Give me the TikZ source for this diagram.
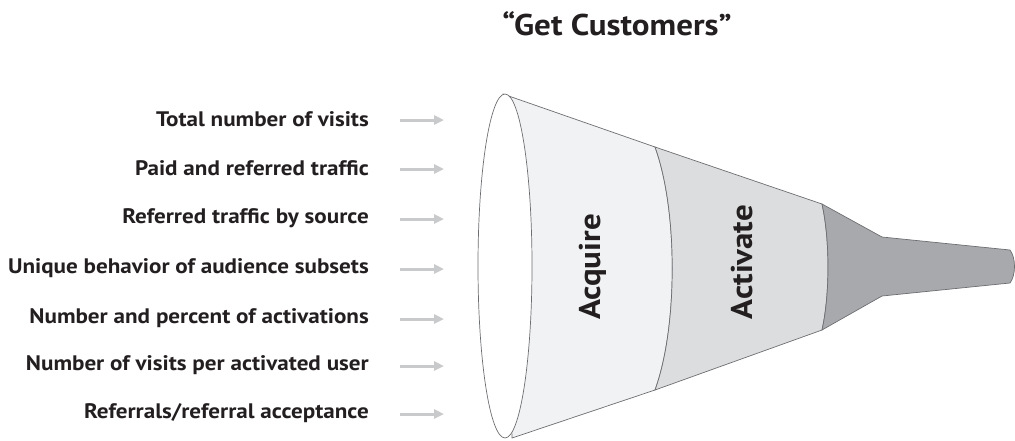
\documentclass[tikz,border=0pt]{standalone}
\usepackage{fontspec}
\setmainfont{PT Sans}
\usetikzlibrary{arrows.meta}
\definecolor{txt}{HTML}{231F20}
\definecolor{edge}{HTML}{6D6E71}
\definecolor{acq}{HTML}{F1F2F3}
\definecolor{act}{HTML}{DCDDDE}
\definecolor{drk}{HTML}{A7A9AC}
\definecolor{arr}{HTML}{C9CACC}
\newfontfamily\wide[FakeStretch=1.1]{PT Sans}
\tikzset{
  lbl/.style={anchor=east, font=\wide\bfseries\fontsize{21}{24}\selectfont, text=txt, inner sep=0pt},
  flow/.style={draw=arr, line width=3pt, -{Triangle[length=10pt,width=9pt]}},
  stage/.style={font=\wide\bfseries\fontsize{30}{34}\selectfont, text=txt, rotate=90, inner sep=0pt},
  rim/.style={draw=edge, line width=0.7pt}
}
\begin{document}
\begin{tikzpicture}[x=1pt,y=-1pt]
\useasboundingbox (0,0) rectangle (1015,440);
\node[font=\wide\bfseries\fontsize{30}{34}\selectfont, text=txt] (title) at (617,24) {“Get Customers”};
% funnel
\path[fill=acq, rim] (503,94) -- (655,147) .. controls (678,210) and (678,327) .. (655,390) -- (512,438) -- cycle;
\path[fill=act, rim] (655,147) -- (822,204) .. controls (830,240) and (830,294) .. (822,330) -- (655,390) .. controls (678,327) and (678,210) .. (655,147) -- cycle;
\path[fill=drk, rim] (822,204) -- (882,237) -- (1010,250) .. controls (1016,258) and (1016,275) .. (1010,283) -- (882,296) -- (822,330) .. controls (830,294) and (830,240) .. (822,204) -- cycle;
\path[fill=white, rim] (505,266) ellipse [x radius=27pt, y radius=172pt];
\node[stage] (acquire) at (593,267) {Acquire};
\node[stage] (activate) at (742,262) {Activate};
% labels
\foreach \i/\y/\t in {1/119/{Total number of visits},2/168/{Paid and referred traffic},3/218/{Referred traffic by source},4/268/{Unique behavior of audience subsets},5/318/{Number and percent of activations},6/365/{Number of visits per activated user},7/413/{Referrals/referral acceptance}}{
  \node[lbl] (l\i) at (369,\y) {\t};
  \coordinate (s\i) at (400,\y+1);
  \coordinate (e\i) at (444,\y+1);
  \draw[flow] (s\i) -- (e\i);
}
\end{tikzpicture}
\end{document}
